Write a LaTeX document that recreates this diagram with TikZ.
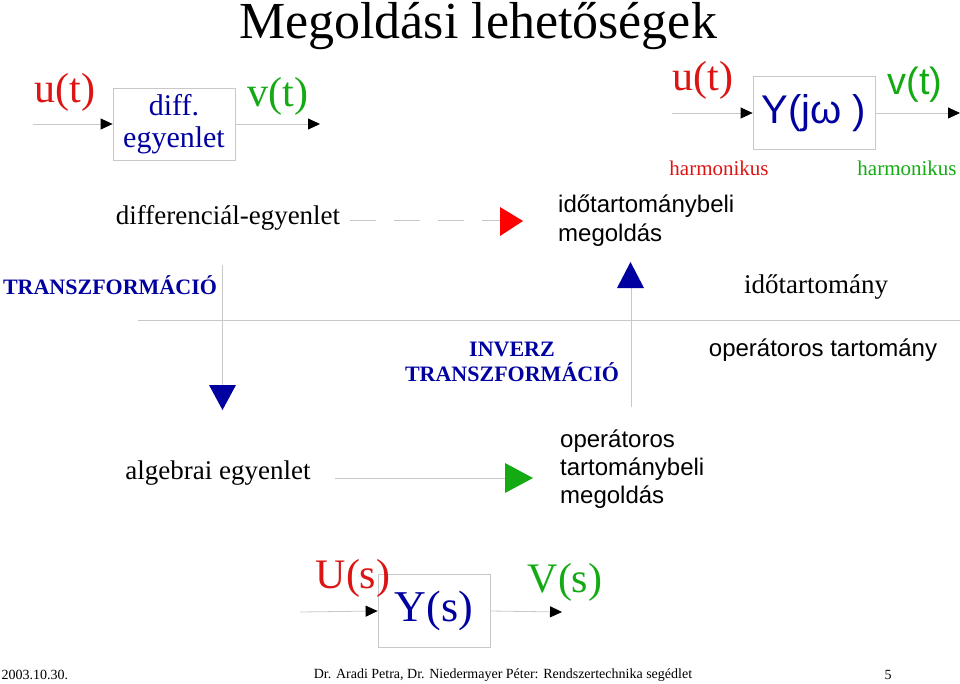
\documentclass[tikz,border=0pt]{standalone}
\usepackage{fontspec}
\setmainfont{Liberation Serif}
\newfontfamily\arialf{Liberation Sans}
\usetikzlibrary{arrows.meta,positioning}
\definecolor{myred}{RGB}{220,20,20}
\definecolor{mygreen}{RGB}{20,170,20}
\definecolor{myblue}{RGB}{0,0,160}
\definecolor{linegray}{RGB}{200,200,200}
\tikzset{
  sig/.style={draw=linegray,line width=0.8pt,-{Triangle[black,length=12pt,width=11pt]}},
  blk/.style={draw=linegray,line width=0.8pt,minimum width=#1,inner sep=0pt},
  txt/.style={inner sep=0pt,font=\fontsize{27}{29}\selectfont},
  bigtri/.style={fill=#1,draw=none}
}
\begin{document}
\begin{tikzpicture}[x=1pt,y=-1pt]
\useasboundingbox (0,0) rectangle (960,683);
% title
\node[inner sep=0pt,anchor=base,font=\fontsize{52}{54}\selectfont] (title) at (478,38) {Megoldási lehetőségek};

% time domain block
\node[blk=122pt,minimum height=72pt,align=center,text=myblue,font=\fontsize{30}{32}\selectfont] (diff) at (174,124) {diff.\\egyenlet};
\coordinate (uin) at (33,124);
\coordinate (vout) at (320,124);
\draw[sig] (uin) -- (diff.west);
\draw[sig] (diff.east) -- (vout);
\node[txt,text=myred,font=\fontsize{42}{44}\selectfont] (u1) at (65,92) {u(t)};
\node[txt,text=mygreen,font=\fontsize{42}{44}\selectfont] (v1) at (278,96) {v(t)};

% frequency block
\node[blk=122pt,minimum height=73pt,text=myblue,font=\arialf\fontsize{40}{42}\selectfont] (yjw) at (814,113) {Y(jω )};
\coordinate (uin2) at (672,113);
\coordinate (vout2) at (960,113);
\draw[sig] (uin2) -- (yjw.west);
\draw[sig] (yjw.east) -- (vout2);
\node[txt,text=myred,font=\fontsize{42}{44}\selectfont] (u2) at (703,80) {u(t)};
\node[txt,text=mygreen,font=\arialf\fontsize{38}{40}\selectfont] (v2) at (915,85) {v(t)};
\node[txt,text=myred,font=\fontsize{21}{23}\selectfont] (h1) at (719,168) {harmonikus};
\node[txt,text=mygreen,font=\fontsize{21}{23}\selectfont] (h2) at (907,168) {harmonikus};

% upper row
\node[txt] (difeq) at (228,218) {differenciál-egyenlet};
\draw[linegray,line width=0.8pt,dash pattern=on 26pt off 18pt] (350,220) -- (500,220);
\fill[bigtri=red] (500,207) -- (523,221) -- (500,236) -- cycle;
\node[txt,anchor=west,align=left,font=\arialf\fontsize{24}{29}\selectfont] (idosol) at (558,221) {időtartománybeli\\megoldás};

% transforms
\node[txt,text=myblue,font=\bfseries\fontsize{22}{24}\selectfont] (transz) at (110,285) {TRANSZFORMÁCIÓ};
\coordinate (tdtop) at (222,265);
\coordinate (tdbot) at (222,385);
\draw[linegray,line width=0.8pt] (tdtop) -- (tdbot);
\fill[bigtri=myblue] (209,385) -- (236,385) -- (222.5,410) -- cycle;
\draw[linegray,line width=0.8pt] (138,320) -- (960,320);
\coordinate (iutop) at (631,288);
\coordinate (iubot) at (631,407);
\draw[linegray,line width=0.8pt] (iutop) -- (iubot);
\fill[bigtri=myblue] (617,288) -- (644,288) -- (630.5,262) -- cycle;
\node[txt,align=center,text=myblue,font=\bfseries\fontsize{22}{25}\selectfont] (inverz) at (512,362) {INVERZ\\TRANSZFORMÁCIÓ};
\node[txt] (idot) at (816,287) {időtartomány};
\node[txt,font=\arialf\fontsize{24}{26}\selectfont] (opt) at (823,350) {operátoros tartomány};

% lower row
\node[txt] (alg) at (218,473) {algebrai egyenlet};
\coordinate (algend) at (335,478);
\draw[linegray,line width=0.8pt] (algend) -- (505,478);
\fill[bigtri=mygreen] (505,463) -- (533,478) -- (505,493) -- cycle;
\node[txt,anchor=west,align=left,font=\arialf\fontsize{24}{28}\selectfont] (opsol) at (560,469) {operátoros\\tartománybeli\\megoldás};

% operator block
\node[blk=112pt,minimum height=73pt,text=myblue,font=\fontsize{44}{46}\selectfont] (ys) at (434,611) {Y(s)};
\coordinate (uin3) at (300,612);
\coordinate (vout3) at (562,612);
\draw[sig] (uin3) -- (ys.west);
\draw[sig] (ys.east) -- (vout3);
\node[txt,text=myred,font=\fontsize{42}{44}\selectfont] (us) at (353,578) {U(s)};
\node[txt,text=mygreen,font=\fontsize{42}{44}\selectfont] (vs) at (565,582) {V(s)};

% footer
\node[txt,font=\fontsize{14}{15}\selectfont] (date) at (35,675) {2003.10.30.};
\node[txt,font=\fontsize{14}{15}\selectfont] (auth) at (503,675) {Dr. Aradi Petra, Dr. Niedermayer Péter: Rendszertechnika segédlet};
\node[txt,font=\fontsize{14}{15}\selectfont] (page) at (888,675) {5};
\end{tikzpicture}
\end{document}
